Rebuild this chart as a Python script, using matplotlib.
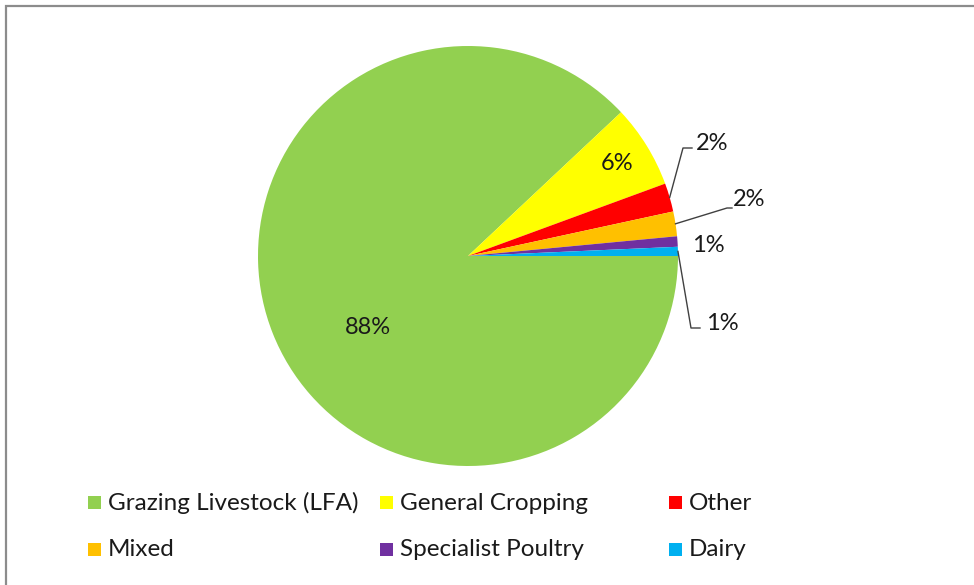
import numpy as np
import matplotlib.pyplot as plt
from matplotlib.patches import Rectangle

plt.rcParams["font.family"] = ["Lato", "DejaVu Sans"]

# data
categories = ["Grazing Livestock (LFA)", "General Cropping", "Other",
              "Mixed", "Specialist Poultry", "Dairy"]
shares = [88.0, 6.4, 2.2, 1.9, 0.8, 0.7]
colors = ["#92D050", "#FFFF00", "#FF0000", "#FFC000", "#7030A0", "#00B0F0"]

W, H = 974, 585
CX, CY, R = 468, 256, 210  # pie centre / radius in pixels


def px(x, y):
    """pixel -> data coordinates (pie radius = 1)"""
    return (x - CX) / R, (CY - y) / R


fig = plt.figure(figsize=(W / 100, H / 100), dpi=100)
ax = fig.add_axes([0, 0, 1, 1])

wedges, _ = ax.pie(shares, colors=colors, startangle=0, counterclock=False,
                   radius=1, wedgeprops=dict(linewidth=0))
ax.set_xlim(-CX / R, (W - CX) / R)
ax.set_ylim((CY - H) / R, CY / R)
ax.set_aspect("equal")
ax.axis("off")

labels = [f"{v:.0f}%" for v in shares]
fs = 17

# inside labels
for i, pos in [(0, (368, 327)), (1, (617, 164))]:
    ax.text(*px(*pos), labels[i], ha="center", va="center", fontsize=fs, color="#1a1a1a")

# outside labels with leader lines: (index, elbow px, end px, text px)
outside = [
    (2, (683, 148), (692, 148), (696, 144)),
    (3, (727, 208), (732, 208), (733, 200)),
    (4, None, None, (692, 245)),
    (5, (691, 328), (700, 328), (706, 323)),
]
for i, elbow, end, tpos in outside:
    w = wedges[i]
    mid = np.deg2rad((w.theta1 + w.theta2) / 2)
    if elbow is not None:
        ex, ey = px(*elbow)
        nx, ny = px(*end)
        ax.plot([np.cos(mid), ex, nx], [np.sin(mid), ey, ny],
                color="#404040", linewidth=1.0)
    ax.text(*px(*tpos), labels[i], ha="left", va="center", fontsize=fs, color="#1a1a1a")

# legend laid out in 3 fixed columns like the original
col_x = [94, 386, 675]
row_y = [502, 549]
for i, (cat, col) in enumerate(zip(categories, colors)):
    r, c = divmod(i, 3)
    x0, y0 = col_x[c], row_y[r]
    fig.patches.append(Rectangle(((x0 - 6.5) / W, 1 - (y0 + 6.5) / H), 13 / W, 13 / H,
                                 transform=fig.transFigure, facecolor=col,
                                 edgecolor="none"))
    fig.text((x0 + 14) / W, 1 - (y0 + 1) / H, cat, ha="left", va="center",
             fontsize=17.5, color="#1a1a1a")

# outer chart frame
fig.patches.append(Rectangle((5.5 / W, -0.1), 2.0, 1 - 6.5 / H + 0.1,
                             transform=fig.transFigure, facecolor="none",
                             edgecolor="#8c8c8c", linewidth=1.6))

fig.savefig("out.png", dpi=100)
